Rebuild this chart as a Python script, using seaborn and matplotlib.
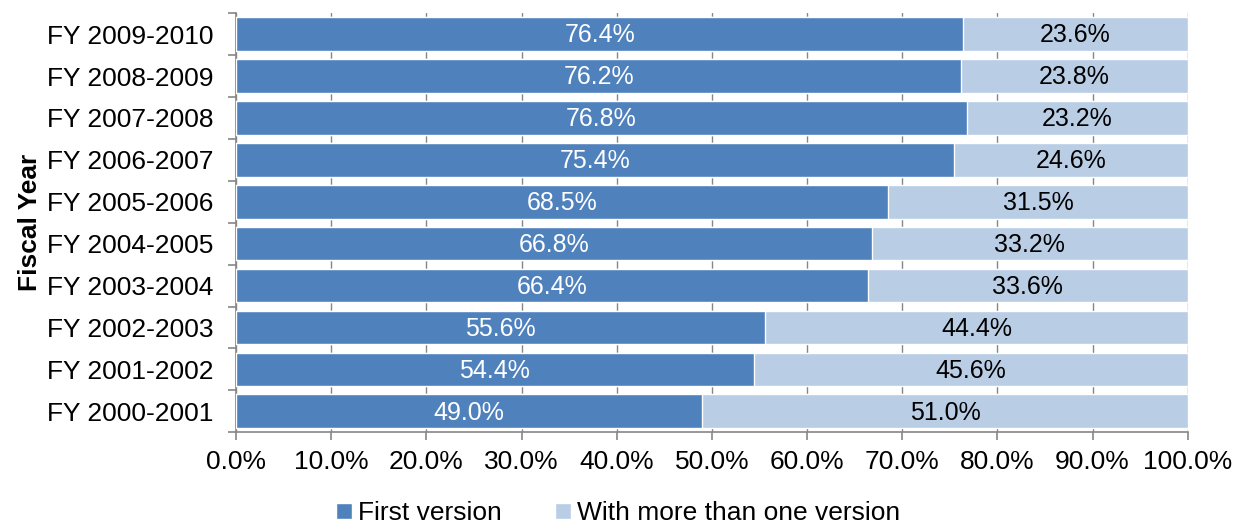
import seaborn as sns
import matplotlib.pyplot as plt
import pandas as pd
import numpy as np
from matplotlib.patches import Patch
from matplotlib.ticker import FixedLocator, PercentFormatter

years = ["FY 2009-2010", "FY 2008-2009", "FY 2007-2008", "FY 2006-2007", "FY 2005-2006",
         "FY 2004-2005", "FY 2003-2004", "FY 2002-2003", "FY 2001-2002", "FY 2000-2001"]
first_version = [76.4, 76.2, 76.8, 75.4, 68.5, 66.8, 66.4, 55.6, 54.4, 49.0]
more_versions = [23.6, 23.8, 23.2, 24.6, 31.5, 33.2, 33.6, 44.4, 45.6, 51.0]

df = pd.DataFrame({"year": years, "first": first_version, "more": more_versions})
df["total"] = df["first"] + df["more"]

dark = "#4F81BD"
light = "#B9CDE5"
grey = "#868686"

sns.set_style("white")
plt.rcParams["font.family"] = ["Liberation Sans", "DejaVu Sans"]
plt.rcParams["text.color"] = "black"
plt.rcParams["axes.labelcolor"] = "black"
plt.rcParams["xtick.labelcolor"] = "black"
plt.rcParams["ytick.labelcolor"] = "black"

fig = plt.figure(figsize=(12.36, 5.29), dpi=100)
ax = fig.add_axes([0.191, 0.183, 0.770, 0.792])

sns.barplot(data=df, y="year", x="total", order=years, color=light, width=0.8,
            saturation=1, ax=ax, zorder=3)
sns.barplot(data=df, y="year", x="first", order=years, color=dark, width=0.8,
            saturation=1, ax=ax, zorder=3)

# segment labels
for i, row in df.iterrows():
    ax.text(row["first"] / 2, i + 0.03, f"{row['first']:.1f}%", ha="center", va="center",
            color="white", fontsize=18, zorder=4)
    ax.text(row["first"] + row["more"] / 2, i + 0.03, f"{row['more']:.1f}%", ha="center",
            va="center", color="black", fontsize=18, zorder=4)

ax.set_xlim(0, 100)
ax.set_ylim(len(years) - 0.5, -0.5)
ax.xaxis.set_major_locator(FixedLocator(np.arange(0, 101, 10)))
ax.xaxis.set_major_formatter(PercentFormatter(decimals=1))
ax.grid(axis="x", color=grey, linewidth=1, zorder=0)
ax.set_axisbelow(True)

ax.yaxis.set_minor_locator(FixedLocator(np.arange(-0.5, len(years), 1)))
ax.tick_params(axis="y", which="major", length=0, labelsize=19, pad=16, labelcolor="black")
ax.tick_params(axis="y", which="minor", length=6, color=grey, width=1.2, direction="out")
ax.tick_params(axis="x", which="major", length=6, color=grey, width=1.2, direction="out",
               labelsize=19, pad=7, labelcolor="black")
ax.tick_params(left=True, bottom=True)
ax.yaxis.set_tick_params(which="minor", left=True)

for side in ["top", "right"]:
    ax.spines[side].set_visible(False)
for side in ["left", "bottom"]:
    ax.spines[side].set_color(grey)
    ax.spines[side].set_linewidth(1.2)

ax.set_xlabel("")
ax.set_ylabel("Fiscal Year", fontsize=19, fontweight="bold", labelpad=4, color="black")

handles = [Patch(facecolor=dark, label="First version"),
           Patch(facecolor=light, label="With more than one version")]
fig.legend(handles=handles, loc="lower center", bbox_to_anchor=(0.5, -0.038), ncol=2,
           frameon=False, fontsize=19, handlelength=0.6, handleheight=0.6,
           handletextpad=0.25, columnspacing=2.0, labelcolor="black")

fig.savefig("out.png", dpi=100)
